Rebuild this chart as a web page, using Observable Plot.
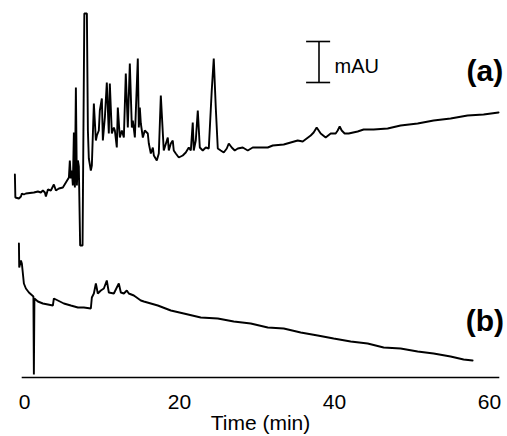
<!DOCTYPE html>
<html>
<head>
<meta charset="utf-8">
<script src="https://cdn.jsdelivr.net/npm/d3@7"></script>
<script src="https://cdn.jsdelivr.net/npm/@observablehq/plot@0.6"></script>
<style>
  html, body { margin: 0; padding: 0; background: #fff; }
  #chart { width: 507px; height: 436px; }
</style>
</head>
<body>
<div id="chart"></div>
<script>
// Trace (a): time (min) and absorbance (mAU, offset)
const timeA = [-1.24,-1.18,-0.72,-0.46,-0.34,-0.08,0.18,1.21,1.73,2.11,2.37,2.63,2.76,3.02,3.40,3.79,4.05,4.44,4.95,5.34,5.73,5.85,5.98,6.11,6.24,6.37,6.50,6.63,6.76,6.89,7.01,7.18,7.49,7.72,8.05,8.18,8.30,8.56,8.69,8.95,9.21,9.34,9.59,9.72,9.98,10.11,10.37,10.62,10.88,11.01,11.27,11.53,11.66,11.91,12.04,12.30,12.56,12.82,13.07,13.33,13.59,13.85,13.98,14.24,14.62,14.75,14.88,15.01,15.27,15.52,15.91,16.04,16.30,16.56,16.69,17.07,17.33,17.59,17.85,17.97,18.49,18.62,18.88,19.13,19.26,19.52,19.91,20.42,20.81,21.20,21.46,21.71,21.84,22.10,22.36,22.62,23.00,23.39,23.78,24.16,24.42,24.68,24.94,25.32,25.71,26.10,26.36,26.74,27.13,27.52,28.16,28.81,29.45,30.48,31.39,32.03,33.45,34.35,35.25,35.90,36.93,37.31,37.70,37.96,38.22,38.86,39.51,40.15,40.41,40.67,40.93,41.31,41.83,42.99,43.76,45.05,46.86,48.53,50.73,52.79,54.98,57.17,59.24,61.17];
const absA = [20.3,18.0,17.9,18.1,18.4,18.3,18.4,18.5,18.6,18.5,18.7,18.5,18.1,18.8,18.7,19.3,18.7,18.9,19.0,19.5,20.0,21.7,19.9,20.7,19.2,24.5,19.0,29.0,19.2,21.7,21.1,13.2,13.2,36.4,36.4,24.7,21.9,20.7,21.2,27.4,23.7,24.2,24.7,26.7,27.9,23.7,26.0,29.5,24.4,29.4,24.4,25.0,24.7,23.0,27.0,24.0,24.7,24.0,30.4,25.0,31.4,25.0,25.7,24.0,31.9,25.0,27.0,25.4,24.0,24.7,24.4,23.4,22.4,23.0,22.2,21.7,22.4,28.2,24.4,22.7,24.0,22.7,23.4,23.7,22.7,22.4,22.0,22.2,22.5,23.0,22.7,25.5,22.7,23.7,26.7,23.0,22.7,23.0,22.9,28.7,31.9,27.0,22.9,22.7,22.5,22.9,23.4,23.0,22.7,22.9,23.0,22.7,23.0,23.0,23.0,23.2,23.3,23.5,23.7,23.6,24.2,24.5,25.0,24.7,24.4,24.0,24.4,24.4,24.7,25.1,24.7,24.4,24.4,24.6,24.8,24.8,24.9,25.2,25.4,25.7,25.9,26.2,26.3,26.5];

// Trace (b)
const timeB = [-0.72,-0.68,-0.46,-0.34,-0.08,0.18,0.57,1.15,1.21,1.28,1.73,2.37,3.02,3.66,3.79,4.31,5.08,5.98,6.89,7.66,8.56,8.69,8.95,9.21,9.46,9.85,10.24,10.62,10.88,11.53,11.91,12.17,12.43,12.82,13.20,13.46,14.11,15.01,15.40,17.20,18.88,20.55,22.74,24.94,27.00,29.19,31.39,33.45,35.64,37.83,39.89,42.09,44.28,46.34,48.53,50.73,52.79,54.98,56.66,57.82];
const absB = [13.4,11.0,11.7,11.4,9.4,8.9,8.5,8.1,0.3,7.9,7.6,7.4,7.3,7.2,7.9,7.7,7.4,7.2,7.0,7.0,6.9,8.0,8.4,9.4,8.4,8.7,8.9,9.7,8.5,8.4,9.0,9.4,8.5,8.4,8.7,8.4,8.2,7.7,7.6,7.2,6.7,6.4,6.0,5.9,5.6,5.4,5.0,4.9,4.5,4.2,3.9,3.6,3.4,3.0,2.9,2.6,2.4,2.1,1.8,1.7];

// Axis ticks
const tickValues = [0, 20, 40, 60];
const axisLabel = "Time (min)";

// Scale bar (mAU) and trace labels
const scaleBarTime = 38;
const scaleBarRange = [29.5, 33.6];
const scaleBarCap = [36.4, 39.5];
const scaleBarText = "mAU";
const traceLabels = ["(a)", "(b)"];
const traceLabelTime = [59.4, 59.4];
const traceLabelAbs = [30.6, 5.66];

const seriesA = timeA.map((t, i) => ({t, v: absA[i]}));
const seriesB = timeB.map((t, i) => ({t, v: absB[i]}));
const labelData = traceLabels.map((s, i) => ({s, t: traceLabelTime[i], v: traceLabelAbs[i]}));

const font = "'Liberation Sans', Arial, Helvetica, sans-serif";

const chart = Plot.plot({
  width: 507,
  height: 436,
  marginTop: 0,
  marginBottom: 59,
  marginLeft: 22,
  marginRight: 9,
  style: {fontFamily: font, background: "#fff", color: "#000"},
  x: {domain: [0, 60], range: [24, 489]},
  y: {domain: [0, 37.7], axis: null},
  marks: [
    Plot.frame({anchor: "bottom", stroke: "#000", strokeWidth: 1.6}),
    Plot.axisX({ticks: tickValues, tickSize: 0, tickPadding: 17, fontSize: 21, label: null, tickFormat: d => String(d)}),
    Plot.text([axisLabel], {frameAnchor: "bottom", lineAnchor: "middle", dy: 46, fontSize: 21, fill: "#000"}),
    Plot.line(seriesA, {x: "t", y: "v", stroke: "#000", strokeWidth: 1.9, strokeLinejoin: "miter"}),
    Plot.line(seriesB, {x: "t", y: "v", stroke: "#000", strokeWidth: 1.9, strokeLinejoin: "miter"}),
    Plot.ruleX([scaleBarTime], {y1: scaleBarRange[0], y2: scaleBarRange[1], stroke: "#000", strokeWidth: 1.6}),
    Plot.ruleY(scaleBarRange, {x1: scaleBarCap[0], x2: scaleBarCap[1], stroke: "#000", strokeWidth: 1.6}),
    Plot.text([scaleBarText], {x: 40.0, y: 31.05, textAnchor: "start", fontSize: 20, fill: "#000"}),
    Plot.text(labelData, {x: "t", y: "v", text: "s", fontSize: 30, fontWeight: "bold", fill: "#000"})
  ]
});
document.getElementById("chart").appendChild(chart);
</script>
</body>
</html>
